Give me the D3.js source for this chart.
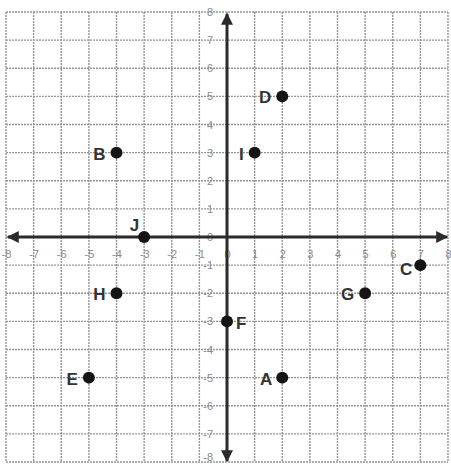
<!DOCTYPE html>
<html>
<head>
<meta charset="utf-8">
<script src="https://cdn.jsdelivr.net/npm/d3@7"></script>
<style>
  body { margin: 0; background: #fff; }
  .tick text { font-family: "Liberation Sans", Arial, sans-serif; font-size: 11px; fill: #8a8a8a; }
</style>
</head>
<body>
<div id="chart"></div>
<script>
// tick values on both axes
var ticks = [-8, -7, -6, -5, -4, -3, -2, -1, 0, 1, 2, 3, 4, 5, 6, 7, 8]

// the lettered points
var names = ['A', 'B', 'C', 'D', 'E', 'F', 'G', 'H', 'I', 'J']
var xs = [2, -4, 7, 2, -5, 0, 5, -4, 1, -3]
var ys = [-5, 3, -1, 5, -5, -3, -2, -2, 3, 0]

var width = 451
var height = 465

var svg = d3.select('#chart')
  .append('svg')
  .attr('width', width)
  .attr('height', height)

var x = d3.scaleLinear().domain([-8, 8]).range([6, 448])
var y = d3.scaleLinear().domain([-8, 8]).range([462, 12])

// grid
svg.selectAll('.vgrid')
  .data(ticks)
  .enter()
  .append('line')
  .attr('x1', d => x(d)).attr('x2', d => x(d))
  .attr('y1', y(8)).attr('y2', y(-8))
  .style('stroke', '#959595')
  .style('stroke-width', 1.4)
  .style('stroke-dasharray', '2,1')

svg.selectAll('.hgrid')
  .data(ticks)
  .enter()
  .append('line')
  .attr('y1', d => y(d)).attr('y2', d => y(d))
  .attr('x1', x(-8)).attr('x2', x(8))
  .style('stroke', '#959595')
  .style('stroke-width', 1.4)
  .style('stroke-dasharray', '2,1')

// tick labels
var fmt = d => String(d)
var xAxis = svg.append('g')
  .attr('transform', 'translate(0,' + y(0) + ')')
  .call(d3.axisBottom(x).tickValues(ticks).tickSize(0).tickPadding(13).tickFormat(fmt))
xAxis.select('.domain').remove()

var yAxis = svg.append('g')
  .attr('transform', 'translate(' + x(0) + ',0)')
  .call(d3.axisLeft(y).tickValues(ticks).tickSize(0).tickPadding(14).tickFormat(fmt))
yAxis.select('.domain').remove()
// keep the bottom label inside the picture
yAxis.selectAll('.tick text').filter(d => d === -8).attr('dy', '-0.1em')

// arrow heads
var defs = svg.append('defs')
defs.append('marker')
  .attr('id', 'arrow')
  .attr('viewBox', '0 0 10 10')
  .attr('refX', 9).attr('refY', 5)
  .attr('markerWidth', 4.5).attr('markerHeight', 4)
  .attr('orient', 'auto-start-reverse')
  .append('path')
  .attr('d', 'M0,0 L10,5 L0,10 z')
  .style('fill', '#2b2b2b')

// axes
svg.append('line')
  .attr('x1', x(-8) + 2).attr('x2', x(8) - 1)
  .attr('y1', y(0)).attr('y2', y(0))
  .style('stroke', '#2b2b2b')
  .style('stroke-width', 3)
  .attr('marker-start', 'url(#arrow)')
  .attr('marker-end', 'url(#arrow)')

svg.append('line')
  .attr('x1', x(0)).attr('x2', x(0))
  .attr('y1', y(8) + 2).attr('y2', y(-8) - 1)
  .style('stroke', '#2b2b2b')
  .style('stroke-width', 3)
  .attr('marker-start', 'url(#arrow)')
  .attr('marker-end', 'url(#arrow)')

// label placement relative to each dot
var labelOffset = {
  A: [-10, 1, 'end'], B: [-11, 1, 'end'], C: [-8, 4, 'end'], D: [-11, 1, 'end'],
  E: [-11, 1, 'end'], F: [9, 2, 'start'], G: [-11, 1, 'end'], H: [-11, 1, 'end'],
  I: [-11, 1, 'end'], J: [-5, -12, 'end']
}

var points = names.map((n, i) => ({ name: n, x: xs[i], y: ys[i] }))

svg.selectAll('.pt')
  .data(points)
  .enter()
  .append('circle')
  .attr('cx', d => x(d.x))
  .attr('cy', d => y(d.y))
  .attr('r', 6)
  .style('fill', '#151515')

svg.selectAll('.lbl')
  .data(points)
  .enter()
  .append('text')
  .attr('x', d => x(d.x) + labelOffset[d.name][0])
  .attr('y', d => y(d.y) + labelOffset[d.name][1])
  .attr('dy', '0.36em')
  .attr('text-anchor', d => labelOffset[d.name][2])
  .style('font-family', '"Liberation Sans", Arial, sans-serif')
  .style('font-weight', 'bold')
  .style('font-size', '17px')
  .style('fill', '#333')
  .text(d => d.name)
</script>
</body>
</html>
